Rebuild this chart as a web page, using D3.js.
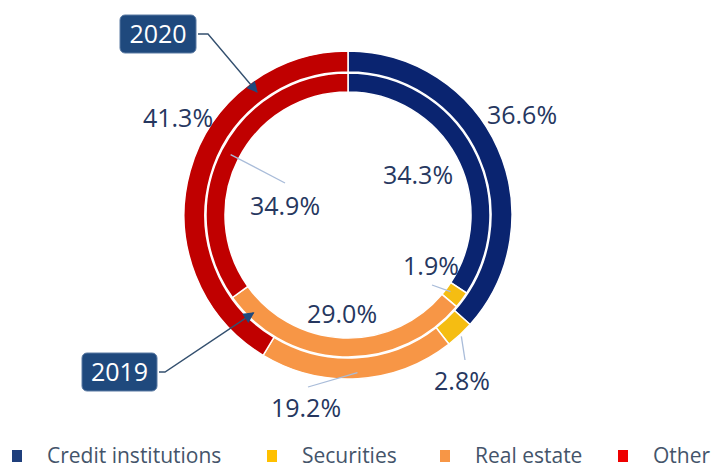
<!DOCTYPE html>
<html>
    <head>
        <title>Asset breakdown 2019 / 2020</title>
        <script src="https://cdn.jsdelivr.net/npm/d3@7"></script>
        <style>
            body { margin: 0; background: #fff; }
            svg { font-family: "Open Sans", "Noto Sans", sans-serif; }
        </style>
    </head>
    <body>

        <div class="chart"><svg width="715" height="470"></svg></div>

        <script type="text/javascript">

            // chart data
            var categories = ["Credit institutions", "Securities", "Real estate", "Other"];
            var values2020 = [36.6, 2.8, 19.2, 41.3];
            var values2019 = [34.3, 1.9, 29.0, 34.9];
            var years = ["2020", "2019"];

            var ringColors = ["#0a2470", "#f5bd12", "#f79646", "#c00000"];
            var legendColors = ["#1f3f7c", "#ffc000", "#f79646", "#ee0000"];

            var svg = d3.select(".chart svg");
            var cx = 348, cy = 215;

            // ring radii and label placement (offsets from the centre)
            var rings = [
                { year: years[0], values: values2020, r0: 143, r1: 164,
                  labels: [[174, -100], [114, 166], [-42, 193], [-170, -97]],
                  leaders: [null, [166, 117, 145], [158, -40, 172], null] },
                { year: years[1], values: values2019, r0: 123, r1: 142,
                  labels: [[70, -40], [83, 51], [-6, 99], [-63, -9]],
                  leaders: [null, [128, 84, 70], null, [132, -63, -32]] }
            ];

            var pie = d3.pie().sort(null).value(function(d) { return d; });
            var g = svg.append("g").attr("transform", "translate(" + cx + "," + cy + ")");

            function polar(r, a) { return [r * Math.sin(a), -r * Math.cos(a)]; }

            rings.forEach(function(ring) {
                var arc = d3.arc().innerRadius(ring.r0).outerRadius(ring.r1);
                var arcs = pie(ring.values);

                g.append("g").selectAll("path")
                    .data(arcs)
                    .enter().append("path")
                    .attr("d", arc)
                    .attr("fill", function(d, i) { return ringColors[i]; })
                    .attr("stroke", "#fff")
                    .attr("stroke-width", 1.5);

                // leader lines
                arcs.forEach(function(d, i) {
                    var l = ring.leaders[i];
                    if (!l) return;
                    var mid = (d.startAngle + d.endAngle) / 2;
                    var p = polar(l[0], mid);
                    g.append("line")
                        .attr("x1", p[0]).attr("y1", p[1])
                        .attr("x2", l[1]).attr("y2", l[2])
                        .attr("stroke", "#a9bcd9")
                        .attr("stroke-width", 1.3);
                });

                g.append("g").selectAll("text")
                    .data(arcs)
                    .enter().append("text")
                    .attr("x", function(d, i) { return ring.labels[i][0]; })
                    .attr("y", function(d, i) { return ring.labels[i][1]; })
                    .attr("dy", "0.36em")
                    .attr("text-anchor", "middle")
                    .attr("font-size", 25)
                    .attr("fill", "#26375f")
                    .text(function(d) { return d.value.toFixed(1) + "%"; });
            });

            // year call-outs with arrows pointing at the rings
            svg.append("defs").append("marker")
                .attr("id", "head")
                .attr("viewBox", "0 0 10 10")
                .attr("refX", 9).attr("refY", 5)
                .attr("markerWidth", 12).attr("markerHeight", 11)
                .attr("markerUnits", "userSpaceOnUse")
                .attr("orient", "auto")
                .append("path")
                .attr("d", "M0,0L10,5L0,10Z")
                .attr("fill", "#1f497d");

            var callouts = [
                { text: years[0], x: 120, y: 15, w: 76, h: 38, side: 208, angle: 323.5, r: 153 },
                { text: years[1], x: 82, y: 353, w: 75, h: 38, side: 165, angle: 224, r: 136 }
            ];

            callouts.forEach(function(c) {
                var tip = polar(c.r, c.angle * Math.PI / 180);
                var my = c.y + c.h / 2;
                svg.append("path")
                    .attr("d", d3.line()([[c.x + c.w + 2, my], [c.side, my], [cx + tip[0], cy + tip[1]]]))
                    .attr("fill", "none")
                    .attr("stroke", "#34506f")
                    .attr("stroke-width", 1.4)
                    .attr("marker-end", "url(#head)");

                svg.append("rect")
                    .attr("x", c.x).attr("y", c.y)
                    .attr("width", c.w).attr("height", c.h)
                    .attr("rx", 5)
                    .attr("fill", "#1f497d")
                    .attr("stroke", "#5a7aa3")
                    .attr("stroke-width", 1);

                svg.append("text")
                    .attr("x", c.x + c.w / 2).attr("y", my)
                    .attr("dy", "0.36em")
                    .attr("text-anchor", "middle")
                    .attr("font-size", 25)
                    .attr("fill", "#fff")
                    .text(c.text);
            });

            // legend
            var legendX = [12, 267, 440, 618];
            var legend = svg.append("g").selectAll("g")
                .data(categories)
                .enter().append("g")
                .attr("transform", function(d, i) { return "translate(" + legendX[i] + ",450)"; });

            legend.append("rect")
                .attr("width", 10).attr("height", 12)
                .attr("fill", function(d, i) { return legendColors[i]; });

            legend.append("text")
                .attr("x", 35).attr("y", 5)
                .attr("dy", "0.36em")
                .attr("font-size", 21)
                .attr("fill", "#44546a")
                .text(function(d) { return d; });

        </script>
    </body>
</html>
